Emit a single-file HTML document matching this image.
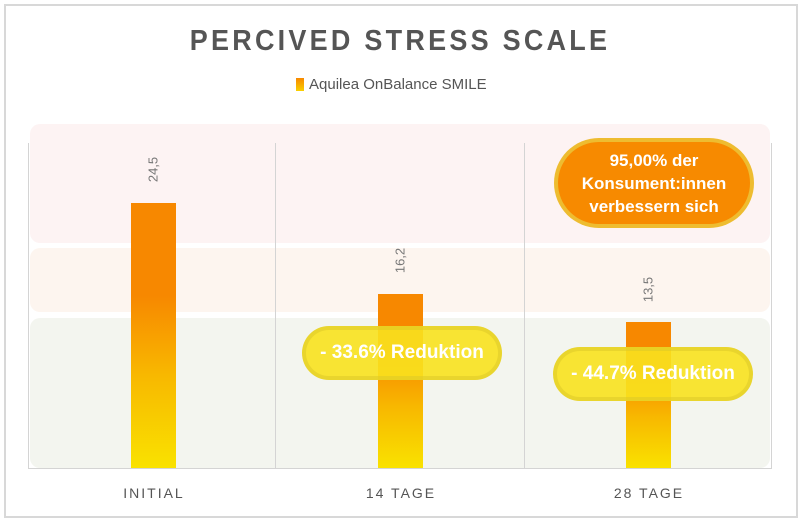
<!DOCTYPE html>
<html><head><meta charset="utf-8"><style>
body{margin:0;width:800px;height:521px;background:#fff;position:relative;overflow:hidden;font-family:"Liberation Sans",sans-serif}
.a{position:absolute}
.bar{position:absolute;width:45px;background:linear-gradient(to bottom,#f78800 0%,#f78800 35%,#f8b800 65%,#f9e200 100%)}
.vl{position:absolute;top:143px;height:326px;width:1px;background:#d4d4d4}
.lab{position:absolute;color:#777;font-size:13px;transform:rotate(-90deg);transform-origin:center;width:40px;text-align:center}
.pill{position:absolute;background:rgba(248,226,30,0.9);border:4px solid rgba(220,200,40,0.55);border-radius:28px;color:#fff;font-weight:bold;font-size:19px;text-align:center;box-sizing:border-box}
.xl{position:absolute;top:485px;color:#555;font-size:14px;letter-spacing:2px;text-align:center;width:140px}
</style></head><body>
<div class="a" style="left:4px;top:4px;width:790px;height:510px;border:2px solid #d8d8d8"></div>
<div class="a" style="left:0;width:800px;top:25px;text-align:center;font-size:29px;font-weight:bold;color:#555;letter-spacing:3.5px;transform:scaleX(0.93)">PERCIVED STRESS SCALE</div>
<div class="a" style="left:296px;top:78px;width:8px;height:13px;background:linear-gradient(#f78800,#f9d000)"></div>
<div class="a" style="left:309px;top:76px;font-size:15px;color:#555">Aquilea OnBalance SMILE</div>
<div class="a" style="left:30px;top:124px;width:740px;height:119px;background:#fdf3f3;border-radius:10px"></div>
<div class="a" style="left:30px;top:248px;width:740px;height:64px;background:#fdf5ef;border-radius:10px"></div>
<div class="a" style="left:30px;top:318px;width:740px;height:150px;background:#f3f5ef;border-radius:10px"></div>
<div class="vl" style="left:28px"></div><div class="vl" style="left:275px"></div><div class="vl" style="left:524px"></div><div class="vl" style="left:771px"></div>
<div class="a" style="left:28px;top:468px;width:744px;height:1px;background:#d4d4d4"></div>
<div class="bar" style="left:131px;top:203px;height:265px"></div>
<div class="bar" style="left:378px;top:294px;height:174px"></div>
<div class="bar" style="left:626px;top:322px;height:146px"></div>
<div class="lab" style="left:133px;top:162px">24,5</div>
<div class="lab" style="left:380px;top:253px">16,2</div>
<div class="lab" style="left:628px;top:282px">13,5</div>
<div class="pill" style="left:302px;top:326px;width:200px;height:54px;line-height:46px">- 33.6% Reduktion</div>
<div class="pill" style="left:553px;top:347px;width:200px;height:54px;line-height:46px">- 44.7% Reduktion</div>
<div class="pill" style="left:554px;top:138px;width:200px;height:90px;background:#f78a00;border-color:rgba(235,200,60,0.8);border-radius:45px;padding-top:7px;line-height:23px;font-size:17px">95,00% der<br>Konsument:innen<br>verbessern sich</div>
<div class="xl" style="left:84px">INITIAL</div>
<div class="xl" style="left:331px">14 TAGE</div>
<div class="xl" style="left:579px">28 TAGE</div>
</body></html>
